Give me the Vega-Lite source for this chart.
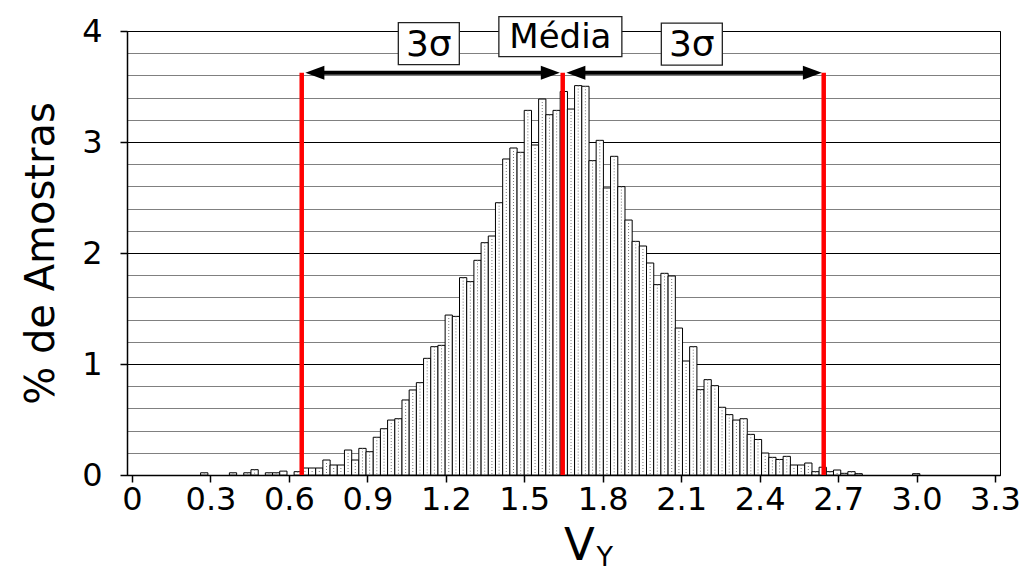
{
 "$schema": "https://vega.github.io/schema/vega-lite/v6.json",
 "width": 873, "height": 444,
 "autosize": {"type": "none"},
 "padding": {"left": 127, "top": 31, "right": 32, "bottom": 97},
 "background": "white",
 "config": {"view": {"stroke": "black", "strokeWidth": 1}, "font": "DejaVu Sans", "axisY": {"labelOverlap": false}},
 "datasets": {
  "bars": [
   {"v":0.27625,"pct":0.02},{"v":0.38625,"pct":0.02},{"v":0.44125,"pct":0.02},{"v":0.46875,"pct":0.048},
   {"v":0.52375,"pct":0.02},{"v":0.55125,"pct":0.02},{"v":0.57875,"pct":0.035},{"v":0.63375,"pct":0.03},
   {"v":0.66125,"pct":0.063},{"v":0.68875,"pct":0.063},{"v":0.71625,"pct":0.063},{"v":0.74375,"pct":0.135},
   {"v":0.77125,"pct":0.09},{"v":0.79875,"pct":0.09},{"v":0.82625,"pct":0.225},{"v":0.85375,"pct":0.135},
   {"v":0.88125,"pct":0.24},{"v":0.90875,"pct":0.21},{"v":0.93625,"pct":0.34},{"v":0.96375,"pct":0.417},
   {"v":0.99125,"pct":0.495},{"v":1.01875,"pct":0.507},{"v":1.04625,"pct":0.676},{"v":1.07375,"pct":0.766},
   {"v":1.10125,"pct":0.832},{"v":1.12875,"pct":1.051},{"v":1.15625,"pct":1.156},{"v":1.18375,"pct":1.168},
   {"v":1.21125,"pct":1.441},{"v":1.23875,"pct":1.429},{"v":1.26625,"pct":1.778},{"v":1.29375,"pct":1.742},
   {"v":1.32125,"pct":1.934},{"v":1.34875,"pct":2.093},{"v":1.37625,"pct":2.153},{"v":1.40375,"pct":2.453},
   {"v":1.43125,"pct":2.847},{"v":1.45875,"pct":2.946},{"v":1.48625,"pct":2.907},{"v":1.51375,"pct":3.285},
   {"v":1.54125,"pct":2.973},{"v":1.56875,"pct":3.387},{"v":1.59625,"pct":3.246},{"v":1.62375,"pct":3.285},
   {"v":1.65125,"pct":3.455},{"v":1.67875,"pct":3.297},{"v":1.70625,"pct":3.508},{"v":1.73375,"pct":3.502},
   {"v":1.76125,"pct":2.832},{"v":1.78875,"pct":3.015},{"v":1.81625,"pct":2.586},{"v":1.84375,"pct":2.871},
   {"v":1.87125,"pct":2.598},{"v":1.89875,"pct":2.297},{"v":1.92625,"pct":2.105},{"v":1.95375,"pct":2.063},
   {"v":1.98125,"pct":1.91},{"v":2.00875,"pct":1.715},{"v":2.03625,"pct":1.817},{"v":2.06375,"pct":1.793},
   {"v":2.09125,"pct":1.324},{"v":2.11875,"pct":1.027},{"v":2.14625,"pct":1.156},{"v":2.17375,"pct":0.769},
   {"v":2.20125,"pct":0.859},{"v":2.22875,"pct":0.805},{"v":2.25625,"pct":0.61},{"v":2.28375,"pct":0.544},
   {"v":2.31125,"pct":0.495},{"v":2.33875,"pct":0.507},{"v":2.36625,"pct":0.366},{"v":2.39375,"pct":0.32},
   {"v":2.42125,"pct":0.198},{"v":2.44875,"pct":0.159},{"v":2.47625,"pct":0.14},{"v":2.50375,"pct":0.168},
   {"v":2.53125,"pct":0.09},{"v":2.55875,"pct":0.09},{"v":2.58625,"pct":0.108},{"v":2.61375,"pct":0.03},
   {"v":2.64125,"pct":0.07},{"v":2.66875,"pct":0.03},{"v":2.69625,"pct":0.045},{"v":2.72375,"pct":0.015},
   {"v":2.75125,"pct":0.03},{"v":2.77875,"pct":0.012},{"v":2.99875,"pct":0.012}
  ]
 },
 "layer": [
  {
   "data": {"name": "bars"},
   "mark": {"type": "bar", "orient": "vertical", "width": 7.27, "fill": "white", "stroke": "black", "strokeWidth": 1},
   "encoding": {
    "x": {"field": "v", "type": "quantitative",
     "scale": {"domain": [0, 3.3], "nice": false, "zero": false},
     "axis": {"title": null, "values": [0,0.3,0.6,0.9,1.2,1.5,1.8,2.1,2.4,2.7,3.0,3.3], "tickCount": 40,
      "labelExpr": "datum.value === 0 ? '0' : format(datum.value, '.1f')",
      "grid": false, "domainColor": "black", "domainWidth": 1.5, "tickColor": "black", "tickSize": 7, "tickWidth": 1.5,
      "labelFont": "DejaVu Sans", "labelFontSize": 32, "labelColor": "black", "labelPadding": 2,
      "labelFlush": false, "labelOverlap": false}},
    "y": {"field": "pct", "type": "quantitative",
     "scale": {"domain": [0, 4], "nice": false, "zero": true},
     "axis": {"title": "% de Amostras",
      "values": [0,0.2,0.4,0.6,0.8,1,1.2,1.4,1.6,1.8,2,2.2,2.4,2.6,2.8,3,3.2,3.4,3.6,3.8,4], "tickCount": 40,
      "labelExpr": "datum.value % 1 === 0 ? format(datum.value, 'd') : ''",
      "grid": true, "gridColor": "black", "gridWidth": 1, "gridOpacity": 1,
      "gridDash": {"condition": {"test": "datum.value % 1 !== 0", "value": [1, 1]}, "value": []},
      "tickOpacity": {"condition": {"test": "datum.value % 1 !== 0", "value": 0}, "value": 1},
      "labelFontSize": {"condition": {"test": "datum.value % 1 !== 0", "value": 1}, "value": 32},
      "tickSize": 7, "tickColor": "black", "tickWidth": 1.5, "domainColor": "black", "domainWidth": 1.5,
      "labelFont": "DejaVu Sans", "labelColor": "black", "labelPadding": 18,
      "labelOverlap": false, "labelFlush": false,
      "titleFont": "DejaVu Sans", "titleFontSize": 40, "titleFontWeight": "normal", "titleColor": "black", "titlePadding": 20}}
   }
  },
  {
   "data": {"name": "bars"},
   "mark": {"type": "rule", "stroke": "#777777", "strokeWidth": 1, "strokeDash": [1, 2]},
   "encoding": {
    "x": {"field": "v", "type": "quantitative"},
    "y": {"field": "pct", "type": "quantitative"},
    "y2": {"datum": 0}
   }
  },
  {
   "data": {"values": [{"v": 0.649, "top": 3.624}, {"v": 1.647, "top": 3.624}, {"v": 2.645, "top": 3.624}]},
   "mark": {"type": "rule", "stroke": "#ff0000", "strokeWidth": 4.5},
   "encoding": {
    "x": {"field": "v", "type": "quantitative"},
    "y": {"field": "top", "type": "quantitative"},
    "y2": {"datum": 0}
   }
  },
  {
   "data": {"values": [{"a": 0.70, "b": 1.60, "h": 3.624}, {"a": 1.70, "b": 2.60, "h": 3.624}]},
   "mark": {"type": "rule", "stroke": "black", "strokeWidth": 4},
   "encoding": {
    "x": {"field": "a", "type": "quantitative"},
    "x2": {"field": "b"},
    "y": {"field": "h", "type": "quantitative"}
   }
  },
  {
   "data": {"values": [{"x": 0.663, "h": 3.624}, {"x": 1.661, "h": 3.624}]},
   "mark": {"type": "point", "shape": "M0,0L2,-0.74L2,0.74Z", "size": 361, "filled": true, "fill": "black", "stroke": null, "opacity": 1},
   "encoding": {
    "x": {"field": "x", "type": "quantitative"},
    "y": {"field": "h", "type": "quantitative"}
   }
  },
  {
   "data": {"values": [{"x": 1.636, "h": 3.624}, {"x": 2.638, "h": 3.624}]},
   "mark": {"type": "point", "shape": "M0,0L-2,-0.74L-2,0.74Z", "size": 361, "filled": true, "fill": "black", "stroke": null, "opacity": 1},
   "encoding": {
    "x": {"field": "x", "type": "quantitative"},
    "y": {"field": "h", "type": "quantitative"}
   }
  },
  {
   "data": {"values": [{"x": 1.135, "y": 3.886}, {"x": 2.1407, "y": 3.881}]},
   "mark": {"type": "point", "shape": "M-1,-0.689H1V0.689H-1Z", "size": 3721, "filled": true, "fill": "white", "stroke": "#222222", "strokeWidth": 1.3, "opacity": 1},
   "encoding": {
    "x": {"field": "x", "type": "quantitative"},
    "y": {"field": "y", "type": "quantitative"}
   }
  },
  {
   "data": {"values": [{"x": 1.638, "y": 3.949}]},
   "mark": {"type": "point", "shape": "M-1,-0.325H1V0.325H-1Z", "size": 15129, "filled": true, "fill": "white", "stroke": "#222222", "strokeWidth": 1.3, "opacity": 1},
   "encoding": {
    "x": {"field": "x", "type": "quantitative"},
    "y": {"field": "y", "type": "quantitative"}
   }
  },
  {
   "data": {"values": [{"t": "3σ", "x": 1.135, "y": 3.771}, {"t": "3σ", "x": 2.1407, "y": 3.771}]},
   "mark": {"type": "text", "font": "DejaVu Sans", "fontSize": 36, "color": "black", "align": "center", "baseline": "alphabetic"},
   "encoding": {
    "x": {"field": "x", "type": "quantitative"},
    "y": {"field": "y", "type": "quantitative"},
    "text": {"field": "t"}
   }
  },
  {
   "data": {"values": [{"t": "Média", "x": 1.638, "y": 3.847}]},
   "mark": {"type": "text", "font": "DejaVu Sans", "fontSize": 34, "color": "black", "align": "center", "baseline": "alphabetic"},
   "encoding": {
    "x": {"field": "x", "type": "quantitative"},
    "y": {"field": "y", "type": "quantitative"},
    "text": {"field": "t"}
   }
  },
  {
   "data": {"values": [{"t": "V", "x": 1.711, "y": -0.763}]},
   "mark": {"type": "text", "font": "DejaVu Sans", "fontSize": 45, "color": "black", "align": "center", "baseline": "alphabetic"},
   "encoding": {
    "x": {"field": "x", "type": "quantitative"},
    "y": {"field": "y", "type": "quantitative"},
    "text": {"field": "t"}
   }
  },
  {
   "data": {"values": [{"t": "Y", "x": 1.808, "y": -0.822}]},
   "mark": {"type": "text", "font": "DejaVu Sans", "fontSize": 27, "color": "black", "align": "center", "baseline": "alphabetic"},
   "encoding": {
    "x": {"field": "x", "type": "quantitative"},
    "y": {"field": "y", "type": "quantitative"},
    "text": {"field": "t"}
   }
  }
 ]
}
